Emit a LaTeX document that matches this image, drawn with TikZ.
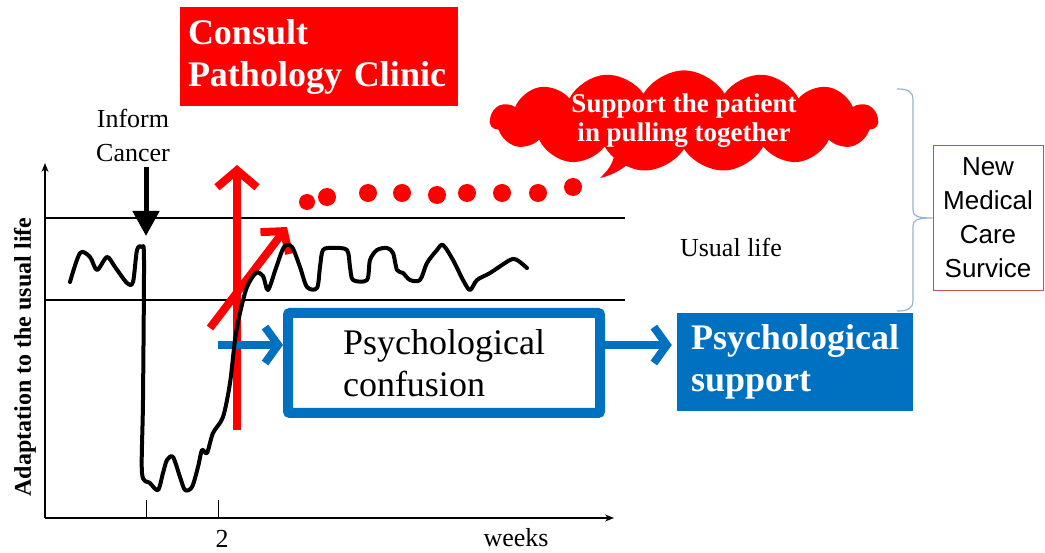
\documentclass[tikz,border=0pt]{standalone}
\usepackage{fontspec}
\setmainfont{Liberation Serif}
\newfontfamily\arialfont{Liberation Sans}
\usetikzlibrary{arrows.meta,shapes.symbols}

\definecolor{tblue}{HTML}{0070C0}
\definecolor{tred}{HTML}{FF0000}
\definecolor{bracegray}{HTML}{95B3D7}
\definecolor{boxred}{HTML}{C0504D}

\tikzset{
  bigtext/.style={font=\fontsize{36}{42}\selectfont},
  bigbold/.style={font=\bfseries\fontsize{36}{42}\selectfont},
  midtext/.style={font=\fontsize{26}{34}\selectfont},
  redarrow/.style={line width=8pt, tred, -{Straight Barb[length=17pt,width=40pt]}},
  bluearrow/.style={line width=8pt, tblue, -{Straight Barb[length=13pt,width=36pt]}},
  axisline/.style={line width=1.5pt, -{Stealth[length=9pt,width=7pt]}},
}

\begin{document}
\begin{tikzpicture}[x=1pt,y=-1pt]
  \useasboundingbox (0,0) rectangle (1045,553);

  % band of the usual life
  \draw[line width=1.2pt] (45,218) -- (625,218);
  \draw[line width=1.2pt] (45,300) -- (625,300);

  % axes
  \coordinate (origin) at (45,518);
  \draw[axisline] (origin) -- (45,163);
  \draw[axisline] (origin) -- (614,518);
  \draw[line width=1pt] (146,500) -- (146,518) (218,500) -- (218,518);
  \node[midtext] (two) at (222,539) {2};
  \node[midtext] (weeks) at (516,538) {weeks};
  \node[rotate=90, font=\bfseries\fontsize{24}{28}\selectfont] (ylabel) at (25,357) {Adaptation to the usual life};

  % informing the cancer
  \node[midtext, align=center] (inform) at (133,135) {Inform\\Cancer};
  \coordinate (cancer) at (146,236);
  \draw[line width=5pt, -{Triangle[length=25pt,width=26pt]}, shorten <=2pt] (inform.south -| cancer) -- (cancer);

  % red arrows and dots
  \coordinate (clinicbase) at (237,430);
  \coordinate (clinictip) at (237,165);
  \draw[redarrow] (clinicbase) -- (clinictip);
  \coordinate (pullbase) at (210,328);
  \coordinate (pulltip) at (287,227);
  \draw[redarrow, -{Straight Barb[length=15pt,width=36pt]}] (pullbase) -- (pulltip);
  \foreach \x/\y/\r in {307/202/8, 327/197/9, 368/193/9, 402/193/9, 437/195/9, 467/193/9, 502/193/9, 538/193/9, 573/187/9}
    \fill[tred] (\x,\y) circle (\r);

  \node[fill=tred, text=white, minimum width=278pt, minimum height=99pt, inner sep=8pt, text width=262pt, align=left, bigbold] (consult) at (319,57) {Consult\\Pathology Clinic};

  \node[cloud, cloud puffs=15, cloud puff arc=120, aspect=4.4, fill=tred, text=white, minimum width=388pt, minimum height=88pt, inner sep=-8pt, align=center, font=\bfseries\fontsize{27}{29}\selectfont] (cloud) at (684,121) {Support the patient\\in pulling together};
  \fill[tred] (615,150) .. controls (614,165) and (606,172) .. (600,178) .. controls (614,175) and (630,166) .. (638,152) -- cycle;

  \node[midtext] (usual) at (731,247) {Usual life};

  % new service
  \node[draw=boxred, line width=1pt, minimum width=110pt, minimum height=145pt, align=center, font=\arialfont\fontsize{26}{34}\selectfont] (newcare) at (988,218) {New\\Medical\\Care\\Survice};
  \coordinate (bracetop) at (897,89);
  \coordinate (bracebot) at (897,311);
  \draw[bracegray, line width=1.2pt] (bracetop) .. controls (909,89) and (913,92) .. (913,100) -- (913,210)
    .. controls (913,216) and (917,218) .. (newcare.west)
    .. controls (917,218) and (913,220) .. (913,226) -- (913,300)
    .. controls (913,308) and (909,311) .. (bracebot);

  % blue boxes
  \node[draw=tblue, line width=10pt, rounded corners=2pt, minimum width=312pt, minimum height=100pt, align=left, bigtext] (confusion) at (444,363) {Psychological\\confusion};
  \node[fill=tblue, text=white, minimum width=236pt, minimum height=98pt, align=left, bigbold] (support) at (795,362) {Psychological\\support};
  \coordinate (confstart) at (218,345);
  \draw[bluearrow] (confstart) -- (confstart -| confusion.west);
  \draw[bluearrow, shorten >=5pt] (confusion.east |- confstart) -- (support.west |- confstart);

  % adaptation curve
  \draw[line width=4pt, line join=round, line cap=round] plot[smooth, tension=0.5] coordinates {
    (70,282) (80,253) (90,257) (97,270) (107,257) (115,267) (127,283) (133,282) (137,250) (142,247)
    (144,260) (143,400) (142,473) (150,483) (158,490) (163,473) (167,460) (173,457) (180,477) (185,490)
    (192,487) (198,467) (202,450) (207,453) (213,433) (223,417) (230,383) (235,340) (240,313) (247,287)
    (256,273) (263,276) (268,290) (276,268) (284,247) (292,247) (300,267) (307,287) (317,288) (320,267)
    (323,250) (333,248) (347,250) (350,267) (353,280) (367,280) (370,260) (377,250) (387,248) (393,253)
    (397,270) (403,273) (410,280) (420,280) (427,263) (437,250) (443,245) (453,260) (463,280) (470,290)
    (477,280) (490,273) (510,260) (517,260) (527,268)};
\end{tikzpicture}
\end{document}
